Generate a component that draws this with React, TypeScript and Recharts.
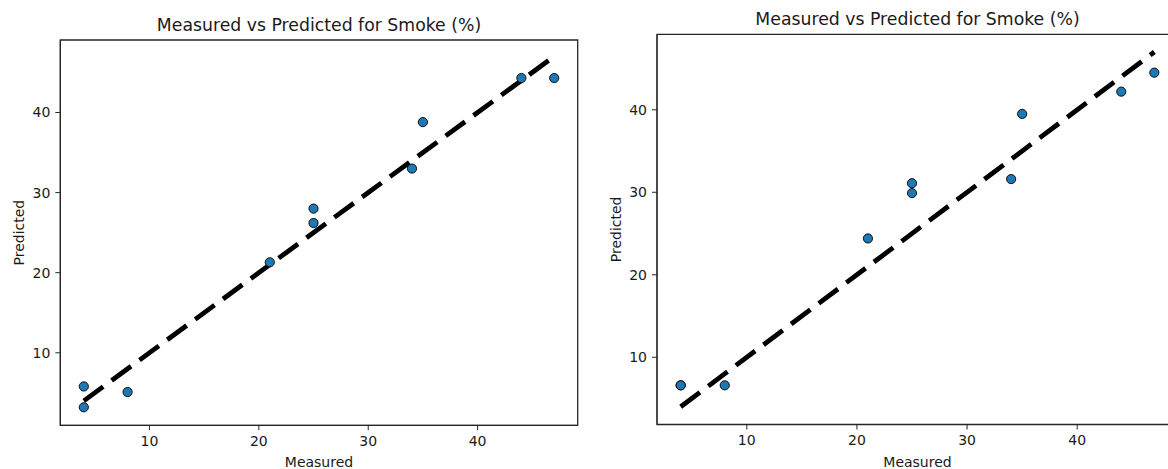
import React from "react"
import { ScatterChart, Scatter, XAxis, YAxis, ReferenceLine, ReferenceArea } from "recharts"

// Left panel values
const measuredLeft = [4, 4, 8, 21, 25, 25, 34, 35, 44, 47]
const predictedLeft = [5.8, 3.2, 5.1, 21.3, 28.0, 26.2, 33.0, 38.8, 44.3, 44.3]

// Right panel values
const measuredRight = [4, 4, 8, 21, 25, 25, 34, 35, 44, 47]
const predictedRight = [6.6, 6.6, 6.6, 24.4, 31.1, 29.9, 31.6, 39.5, 42.2, 44.5]

const idealLine = [4, 47]
const tickValues = [10, 20, 30, 40]
const TITLE = "Measured vs Predicted for Smoke (%)"

const FONT = "'DejaVu Sans', sans-serif"
const TEXT = "#1a1a1a"
const SPINE = "#262626"

const Dot = (props: any) => (
    <circle cx={props.cx} cy={props.cy} r={4.6} fill="#1f77b4" stroke="#000" strokeWidth={0.9} />
)

interface PanelProps {
    xs: number[]
    ys: number[]
    width: number
    height: number
    top: number
    right: number
    yAxisWidth: number
    xAxisHeight: number
    xDomain: [number, number]
    yDomain: [number, number]
    yLabelOffset: number
}

function Panel({ xs, ys, width, height, top, right, yAxisWidth, xAxisHeight, xDomain, yDomain, yLabelOffset }: PanelProps) {
    const data = xs.map((x, i) => ({ measured: x, predicted: ys[i] }))
    const tickStyle = { fontSize: 14, fill: TEXT, fontFamily: FONT }
    return (
        <ScatterChart width={width} height={height} margin={{ top, right, left: 0, bottom: 0 }}>
            <XAxis
                type="number"
                dataKey="measured"
                domain={xDomain}
                allowDataOverflow
                ticks={tickValues}
                height={xAxisHeight}
                tick={tickStyle}
                tickSize={5}
                tickMargin={6}
                stroke={SPINE}
                tickLine={{ stroke: SPINE }}
                label={{ value: "Measured", position: "insideBottom", offset: 3, fontSize: 14, fill: TEXT, fontFamily: FONT }}
            />
            <YAxis
                type="number"
                dataKey="predicted"
                domain={yDomain}
                allowDataOverflow
                ticks={tickValues}
                width={yAxisWidth}
                tick={tickStyle}
                tickSize={5}
                tickMargin={5}
                stroke={SPINE}
                tickLine={{ stroke: SPINE }}
                label={{
                    value: "Predicted",
                    angle: -90,
                    position: "insideLeft",
                    offset: yLabelOffset,
                    fontSize: 14,
                    fill: TEXT,
                    fontFamily: FONT,
                    style: { textAnchor: "middle" },
                }}
            />
            <ReferenceArea
                x1={xDomain[0]}
                x2={xDomain[1]}
                y1={yDomain[0]}
                y2={yDomain[1]}
                fill="none"
                fillOpacity={0}
                stroke={SPINE}
                strokeWidth={1.3}
                label={{ value: TITLE, position: "top", offset: 9, fontSize: 17.3, fill: TEXT, fontFamily: FONT }}
            />
            <Scatter data={data} shape={Dot} isAnimationActive={false} />
            <ReferenceLine
                segment={[
                    { x: idealLine[0], y: idealLine[0] },
                    { x: idealLine[1], y: idealLine[1] },
                ]}
                stroke="#000"
                strokeWidth={4.8}
                strokeDasharray="24 10.5"
                ifOverflow="visible"
            />
        </ScatterChart>
    )
}

export default function App() {
    return (
        <div
            style={{
                position: "absolute",
                left: 0,
                top: 0,
                width: 1168,
                height: 469,
                overflow: "hidden",
                background: "#fff",
                fontFamily: FONT,
            }}
        >
            <div style={{ position: "absolute", left: 0, top: 0 }}>
                <Panel
                    xs={measuredLeft}
                    ys={predictedLeft}
                    width={590}
                    height={470}
                    top={40}
                    right={12.3}
                    yAxisWidth={60.3}
                    xAxisHeight={44.7}
                    xDomain={[1.85, 49.15]}
                    yDomain={[0.95, 49.05]}
                    yLabelOffset={19}
                />
            </div>
            <div style={{ position: "absolute", left: 590, top: 0 }}>
                <Panel
                    xs={measuredRight}
                    ys={predictedRight}
                    width={600}
                    height={470}
                    top={34.3}
                    right={12}
                    yAxisWidth={67}
                    xAxisHeight={45.5}
                    xDomain={[1.85, 49.15]}
                    yDomain={[1.85, 49.15]}
                    yLabelOffset={26}
                />
            </div>
        </div>
    )
}
